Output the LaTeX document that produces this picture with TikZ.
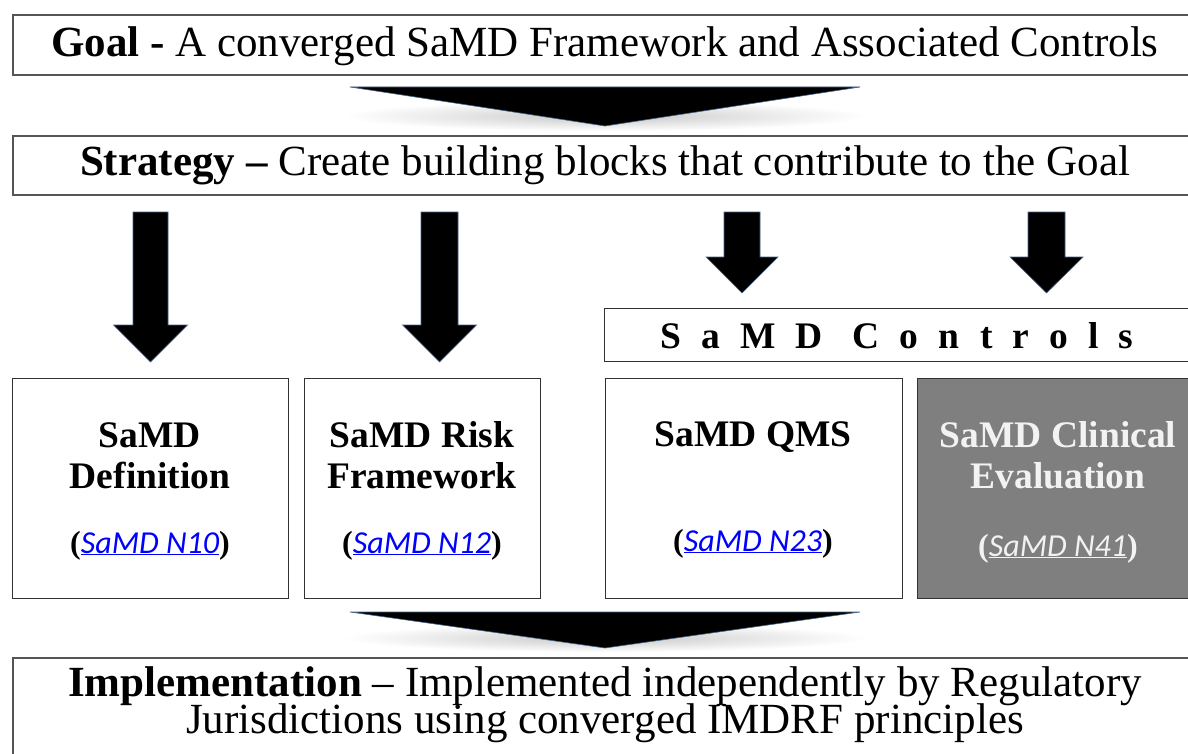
\documentclass[tikz,border=0pt]{standalone}
\usepackage{fontspec}
\setmainfont{Liberation Serif}
\newfontfamily\calib{Carlito}
\definecolor{linkblue}{RGB}{0,0,255}
\definecolor{boxgray}{RGB}{127,127,127}
\definecolor{edgegray}{RGB}{85,85,85}
\definecolor{boxedge}{RGB}{50,50,50}
\definecolor{arrowedge}{RGB}{70,100,140}
\definecolor{lighttxt}{RGB}{242,242,242}
\newcommand\blkarrow[6]{% cx, top, headtop, tip, shafthalf, headhalf
  \fill[arrowfill] (#1-#5,#2) -- (#1+#5,#2) -- (#1+#5,#3) -- (#1+#6,#3) -- (#1,#4) -- (#1-#6,#3) -- (#1-#5,#3) -- cycle;}
\begin{document}
\begin{tikzpicture}[x=1pt,y=-1pt,
  frame/.style={draw=edgegray, line width=1.6pt, fill=white, inner sep=0pt, anchor=north west},
  card/.style={draw=boxedge, line width=1.3pt, fill=white, inner sep=0pt, anchor=north west},
  hdr/.style={font=\fontsize{43}{50}\selectfont, inner sep=0pt, anchor=base},
  ttl/.style={font=\fontsize{37.5}{44}\selectfont\bfseries, inner sep=0pt, anchor=base},
  lnk/.style={font=\fontsize{32}{38}\selectfont, inner sep=0pt, anchor=base},
  arrowfill/.style={fill=black, draw=arrowedge, line width=0.6pt, line join=miter},
  chev/.style={fill=black, draw=arrowedge, line width=0.6pt}
]
\clip (0,0) rectangle (1188,754);
\fill[white] (0,0) rectangle (1188,754);

% Goal
\node[frame, minimum width=1190pt, minimum height=60pt] (goal) at (12,14) {};
\node[hdr] (goaltxt) at (605,57) {\textbf{Goal -} A converged SaMD Framework and Associated Controls};

% chevron 1
\shade[inner color=black!22, outer color=white] (605,116) ellipse [x radius=262pt, y radius=15pt];
\coordinate (c1l) at (350,87);
\coordinate (c1r) at (860,87);
\coordinate (c1t) at (605,126);
\path[chev] (c1l) -- (c1r) -- (c1t) -- cycle;

% Strategy
\node[frame, minimum width=1190pt, minimum height=59pt] (strat) at (12,135) {};
\node[hdr] (strattxt) at (605,176) {\textbf{Strategy –} Create building blocks that contribute to the Goal};

% block arrows
\blkarrow{150.5}{212}{325}{362}{17.5}{37}
\blkarrow{439.5}{212}{325}{362}{18.5}{37}
\blkarrow{742}{212}{257}{293}{18}{36}
\blkarrow{1046.5}{212}{257}{293}{18.5}{36.5}

% SaMD Controls
\node[card, minimum width=600pt, minimum height=53pt] (ctrl) at (604,308) {};
\node[ttl, anchor=base west] (ctrltxt) at (660,348) {\addfontfeatures{LetterSpace=54}SaMD Controls};

% boxes
\node[card, minimum width=276pt, minimum height=220pt] (b1) at (12,378) {};
\node[card, minimum width=236pt, minimum height=220pt] (b2) at (304,378) {};
\node[card, minimum width=297pt, minimum height=220pt] (b3) at (605,378) {};
\node[card, fill=boxgray, minimum width=290pt, minimum height=220pt] (b4) at (917,378) {};

\node[ttl] (b1a) at (150,447) {SaMD};
\node[ttl] (b1b) at (150,488) {Definition};
\node[lnk] (b1c) at (150,553) {\textbf{(}{\calib\itshape\color{linkblue}\underline{SaMD N10}}\textbf{)}};

\node[ttl] (b2a) at (422,447) {SaMD Risk};
\node[ttl] (b2b) at (422,488) {Framework};
\node[lnk] (b2c) at (422,553) {\textbf{(}{\calib\itshape\color{linkblue}\underline{SaMD N12}}\textbf{)}};

\node[ttl] (b3a) at (753,446) {SaMD QMS};
\node[lnk] (b3c) at (753,551) {\textbf{(}{\calib\itshape\color{linkblue}\underline{SaMD N23}}\textbf{)}};

\node[ttl, text=lighttxt] (b4a) at (1058,447) {SaMD Clinical};
\node[ttl, text=lighttxt] (b4b) at (1058,488) {Evaluation};
\node[lnk, text=lighttxt] (b4c) at (1058,556) {\textbf{(}{\calib\itshape\underline{SaMD N41}}\textbf{)}};

% chevron 2
\shade[inner color=black!22, outer color=white] (605,638) ellipse [x radius=262pt, y radius=14pt];
\coordinate (c2l) at (350,612);
\coordinate (c2r) at (860,612);
\coordinate (c2t) at (605,648);
\path[chev] (c2l) -- (c2r) -- (c2t) -- cycle;

% Implementation
\node[frame, minimum width=1190pt, minimum height=120pt] (impl) at (12,657) {};
\node[hdr] (impl1) at (605,696) {\textbf{Implementation} – Implemented independently by Regulatory};
\node[hdr] (impl2) at (605,733) {Jurisdictions using converged IMDRF principles};
\end{tikzpicture}
\end{document}
